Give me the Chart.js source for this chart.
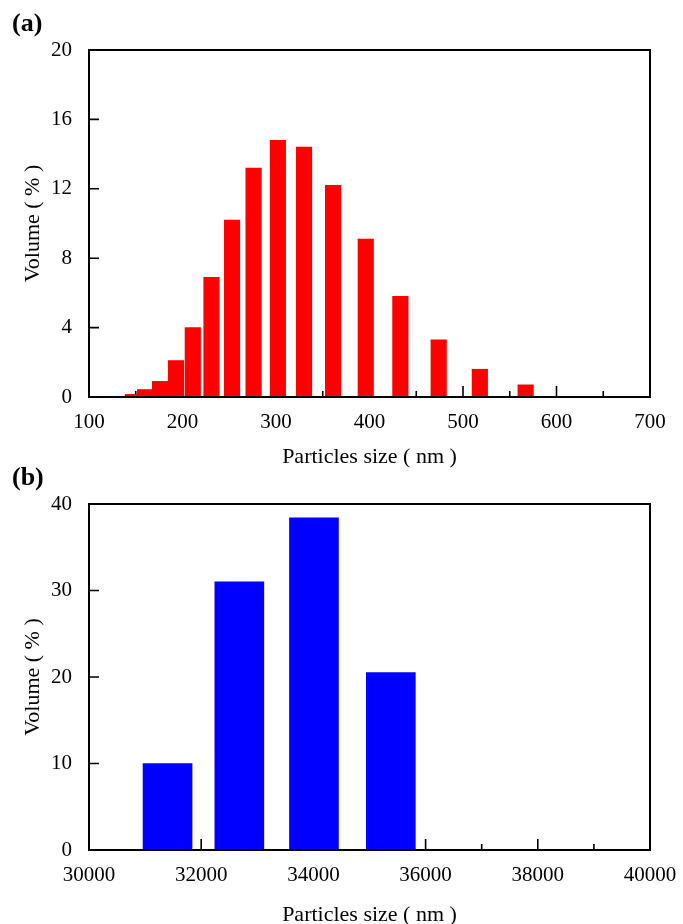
<!DOCTYPE html>
<html>
<head>
<meta charset="utf-8">
<script src="https://cdn.jsdelivr.net/npm/chart.js@4.4.0/dist/chart.umd.min.js"></script>
<style>
  body { margin: 0; background: #fff; }
  #page { position: relative; width: 683px; height: 924px; overflow: hidden; }
  .panel { position: absolute; left: 0; width: 683px; }
  .tag { position: absolute; font: bold 26px "Liberation Serif", serif; color: #000; line-height: 1; }
</style>
</head>
<body>
<div id="page">
  <div class="panel" style="top:0;height:470px"><canvas id="chartA"></canvas></div>
  <div class="panel" style="top:470px;height:454px"><canvas id="chartB"></canvas></div>
  <div class="tag" style="left:12px;top:10px">(a)</div>
  <div class="tag" style="left:12px;top:464px">(b)</div>
</div>
<script>
// panel (a): particle size distribution, nm
const sizesA = [147, 160, 176, 193, 211, 231, 253, 276, 302, 330, 361, 396, 433, 474, 518, 567];
const volumeA = [0.15, 0.43, 0.9, 2.1, 4.0, 6.9, 10.2, 13.2, 14.8, 14.4, 12.2, 9.1, 5.8, 3.3, 1.6, 0.7];
const xTicksA = [100, 200, 300, 400, 500, 600, 700];
const yTicksA = [0, 4, 8, 12, 16, 20];

// panel (b)
const sizesB = [31400, 32680, 34010, 35380];
const volumeB = [10.0, 31.0, 38.4, 20.5];
const xTicksB = [30000, 32000, 34000, 36000, 38000, 40000];
const yTicksB = [0, 10, 20, 30, 40];

Chart.defaults.font.family = '"Liberation Serif", "Times New Roman", serif';
Chart.defaults.color = '#000';

// inward tick marks + closed frame, like the original plot
const frameTicks = {
  id: 'frameTicks',
  beforeDatasetsDraw(chart, args, opts) {
    const { ctx, chartArea: a, scales: { x, y } } = chart;
    const xt = opts.xTicks, yt = opts.yTicks;
    ctx.save();
    ctx.strokeStyle = '#000';
    ctx.lineWidth = 1.6;
    ctx.beginPath();
    for (let i = 0; i < xt.length; i++) {
      const px = x.getPixelForValue(xt[i]);
      ctx.moveTo(px, a.bottom);
      ctx.lineTo(px, a.bottom - 11);
      if (i < xt.length - 1) {
        const mid = x.getPixelForValue((xt[i] + xt[i + 1]) / 2);
        ctx.moveTo(mid, a.bottom);
        ctx.lineTo(mid, a.bottom - 6);
      }
    }
    for (let i = 1; i < yt.length - 1; i++) {
      const py = y.getPixelForValue(yt[i]);
      ctx.moveTo(a.left, py);
      ctx.lineTo(a.left + 10, py);
    }
    ctx.stroke();
    ctx.restore();
  },
  afterDatasetsDraw(chart) {
    const { ctx, chartArea: a } = chart;
    ctx.save();
    ctx.strokeStyle = '#000';
    ctx.lineWidth = 2;
    ctx.strokeRect(a.left, a.top, a.right - a.left, a.bottom - a.top);
    ctx.restore();
  }
};

function makeChart(id, xs, ys, color, thick, xTicks, yTicks, pad, xAxisH, titleGap) {
  return new Chart(document.getElementById(id), {
    type: 'bar',
    data: {
      datasets: [{
        data: xs.map((v, i) => ({ x: v, y: ys[i] })),
        backgroundColor: color,
        borderWidth: 0,
        barThickness: thick
      }]
    },
    options: {
      responsive: true,
      maintainAspectRatio: false,
      animation: false,
      layout: { padding: pad },
      plugins: {
        legend: { display: false },
        tooltip: { enabled: false },
        frameTicks: { xTicks: xTicks, yTicks: yTicks }
      },
      scales: {
        x: {
          type: 'linear',
          offset: false,
          min: xTicks[0],
          max: xTicks[xTicks.length - 1],
          grid: { display: false, drawTicks: false },
          border: { display: false },
          afterBuildTicks: s => { s.ticks = xTicks.map(v => ({ value: v })); },
          afterFit: s => { s.height = xAxisH; s.paddingLeft = 0; s.paddingRight = 0; },
          ticks: {
            autoSkip: false, maxRotation: 0, padding: 13, font: { size: 21 },
            callback: v => String(v)
          },
          title: {
            display: true,
            text: 'Particles size ( nm )',
            font: { size: 22, lineHeight: 1 },
            padding: { top: 0, bottom: titleGap }
          }
        },
        y: {
          min: yTicks[0],
          max: yTicks[yTicks.length - 1],
          grid: { display: false, drawTicks: false },
          border: { display: false },
          afterBuildTicks: s => { s.ticks = yTicks.map(v => ({ value: v })); },
          afterFit: s => { s.width = 89; s.paddingTop = 0; s.paddingBottom = 0; },
          ticks: { padding: 17, font: { size: 21 }, callback: v => String(v) },
          title: {
            display: true,
            text: 'Volume ( % )',
            font: { size: 22, lineHeight: 1 },
            padding: { top: 22, bottom: 0 }
          }
        }
      }
    },
    plugins: [frameTicks]
  });
}

makeChart('chartA', sizesA, volumeA, '#ff0000', 15.5, xTicksA, yTicksA,
  { top: 50, right: 33, left: 0, bottom: 0 }, 73, 2);
makeChart('chartB', sizesB, volumeB, '#0000ff', 49, xTicksB, yTicksB,
  { top: 34, right: 33, left: 0, bottom: 0 }, 74, -2);
</script>
</body>
</html>
